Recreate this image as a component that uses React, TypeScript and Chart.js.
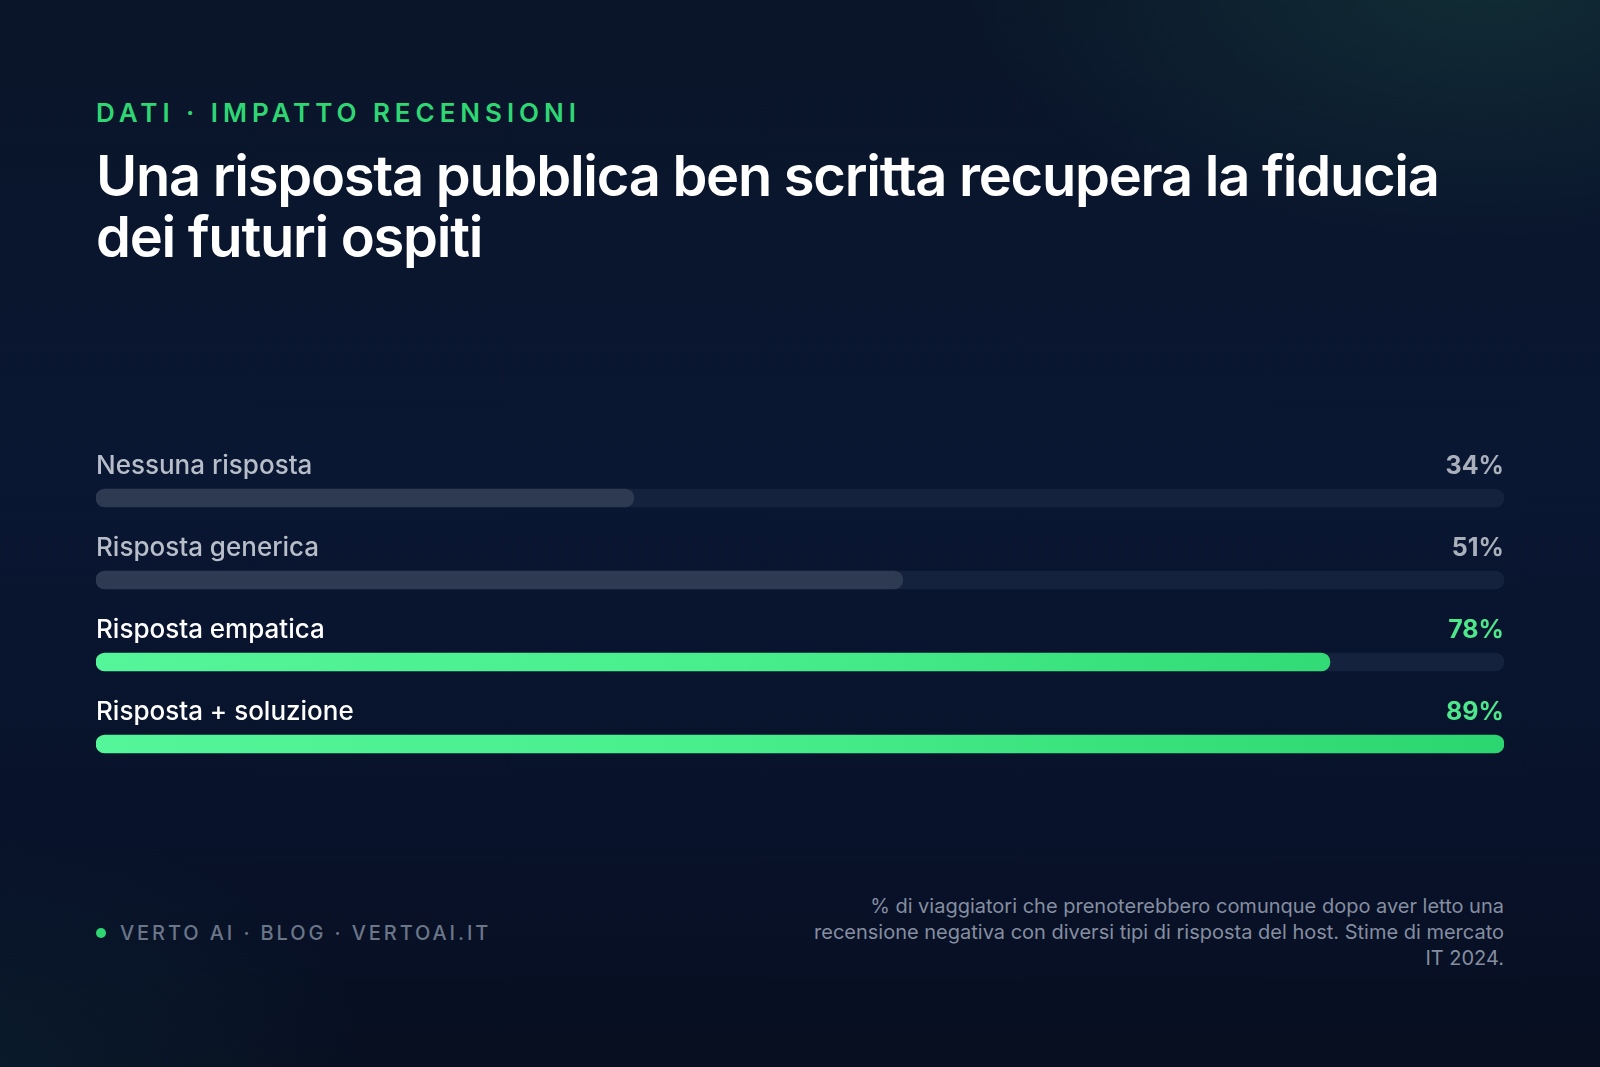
import React, { useEffect, useRef } from "react";
import { Chart, registerables } from "chart.js";

Chart.register(...registerables);

const categories = ["Nessuna risposta", "Risposta generica", "Risposta empatica", "Risposta + soluzione"];
const values = [34, 51, 78, 89];
const highlighted = [false, false, true, true];
const valueLabels = ["34%", "51%", "78%", "89%"];

const FONT = "Inter, 'Noto Sans', sans-serif";

export default function App() {
  const ref = useRef<HTMLCanvasElement | null>(null);

  useEffect(() => {
    document.body.style.margin = "0";
    const canvas = ref.current;
    if (!canvas) return;
    const maxV = Math.max(...values);

    const labelPlugin = {
      id: "rowLabels",
      afterDatasetsDraw(chart: any) {
        const { ctx, chartArea, scales } = chart;
        ctx.save();
        ctx.textBaseline = "middle";
        categories.forEach((c, i) => {
          const y = scales.y.getPixelForValue(i) - 32;
          ctx.font = `500 26px ${FONT}`;
          ctx.textAlign = "left";
          ctx.fillStyle = highlighted[i] ? "#ffffff" : "#b7bdc9";
          ctx.fillText(c, chartArea.left, y);
          ctx.font = `700 25px ${FONT}`;
          ctx.textAlign = "right";
          ctx.fillStyle = highlighted[i] ? "#4ee88c" : "#a9b0bc";
          ctx.fillText(valueLabels[i], chartArea.right, y);
        });
        ctx.restore();
      },
    };

    const chart = new Chart(canvas, {
      type: "bar",
      data: {
        labels: categories,
        datasets: [
          {
            data: values,
            backgroundColor: (c: any) => {
              const i = c.dataIndex;
              if (!highlighted[i]) return "#2d3a52";
              const area = c.chart.chartArea;
              if (!area) return "#3ee37f";
              const g = c.chart.ctx.createLinearGradient(area.left, 0, area.right, 0);
              g.addColorStop(0, "#55f599");
              g.addColorStop(0.45, "#48ee8c");
              g.addColorStop(1, "#2bd56f");
              return g;
            },
            barThickness: 18,
            borderRadius: 9,
            borderSkipped: false,
            grouped: false,
          } as any,
          {
            data: values.map(() => maxV),
            backgroundColor: "#15223d",
            barThickness: 18,
            borderRadius: 9,
            borderSkipped: false,
            grouped: false,
          } as any,
        ],
      },
      options: {
        indexAxis: "y",
        animation: false,
        responsive: false,
        maintainAspectRatio: false,
        layout: { padding: { top: 40, left: 0, right: 0, bottom: 0 } },
        plugins: { legend: { display: false }, tooltip: { enabled: false } },
        scales: {
          x: { min: 0, max: maxV, display: false, grid: { display: false } },
          y: { display: false, grid: { display: false } },
        },
      },
      plugins: [labelPlugin],
    });
    return () => chart.destroy();
  }, []);

  return (
    <div
      style={{
        position: "relative",
        width: 1600,
        height: 1067,
        overflow: "hidden",
        fontFamily: FONT,
        background:
          "radial-gradient(ellipse 520px 260px at 1480px -20px, rgba(40,120,90,0.24), rgba(0,0,0,0) 100%), radial-gradient(ellipse 420px 260px at -40px 1080px, rgba(30,90,100,0.16), rgba(0,0,0,0) 100%), linear-gradient(180deg, #0a1529 0%, #0a1732 45%, #08122b 75%, #070f20 100%)",
      }}
    >
      <div
        style={{
          position: "absolute",
          left: 96,
          top: 98,
          color: "#2fd774",
          fontSize: 26,
          fontWeight: 600,
          letterSpacing: 4.95,
          lineHeight: "30px",
          whiteSpace: "nowrap",
        }}
      >
        DATI · IMPATTO RECENSIONI
      </div>
      <div
        style={{
          position: "absolute",
          left: 96,
          top: 146,
          width: 1420,
          color: "#ffffff",
          fontSize: 56,
          fontWeight: 600,
          letterSpacing: -1.25,
          lineHeight: "61px",
        }}
      >
        Una risposta pubblica ben scritta recupera la fiducia
        <br />
        dei futuri ospiti
      </div>
      <canvas
        ref={ref}
        width={1408}
        height={368}
        style={{ position: "absolute", left: 96, top: 417, width: 1408, height: 368 }}
      />
      <div
        style={{
          position: "absolute",
          left: 96,
          top: 920,
          display: "flex",
          alignItems: "center",
          color: "#6b7689",
          fontSize: 20,
          fontWeight: 500,
          letterSpacing: 2.9,
          lineHeight: "26px",
          whiteSpace: "nowrap",
        }}
      >
        <span
          style={{
            display: "inline-block",
            width: 10,
            height: 10,
            borderRadius: 5,
            background: "#2fd774",
            marginRight: 14,
          }}
        />
        VERTO AI · BLOG · VERTOAI.IT
      </div>
      <div
        style={{
          position: "absolute",
          right: 96,
          top: 893,
          width: 700,
          textAlign: "right",
          color: "#858ea0",
          fontSize: 20,
          lineHeight: "26px",
        }}
      >
        % di viaggiatori che prenoterebbero comunque dopo aver letto una recensione negativa con diversi tipi di
        risposta del host. Stime di mercato IT 2024.
      </div>
    </div>
  );
}
